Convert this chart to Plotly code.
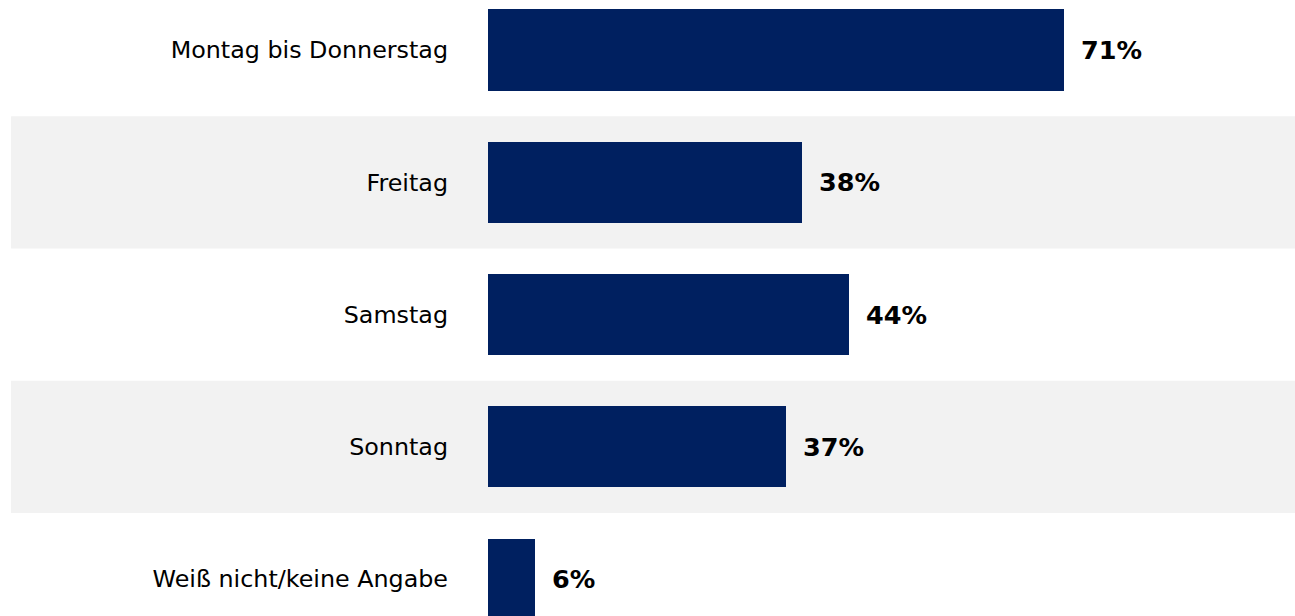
import plotly.graph_objects as go

categories = ["Montag bis Donnerstag", "Freitag", "Samstag", "Sonntag", "Weiß nicht/keine Angabe"]
values = [70.6, 38.5, 44.3, 36.6, 5.8]
labels = ["71%", "38%", "44%", "37%", "6%"]

BAR = "#002060"
BAND = "#f2f2f2"
FONT = "Verdana, DejaVu Sans, sans-serif"

fig = go.Figure()
fig.add_trace(go.Bar(
    y=categories, x=values, orientation="h",
    marker=dict(color=BAR, line=dict(width=0)),
    width=0.613, hoverinfo="skip", showlegend=False,
))

shapes = []
for i in range(len(categories)):
    if i % 2 == 1:
        shapes.append(dict(type="rect", xref="paper", yref="y",
                           x0=-0.591, x1=1.0, y0=i - 0.5, y1=i + 0.5,
                           fillcolor=BAND, line=dict(width=0), layer="below"))

annotations = []
for c, v, t in zip(categories, values, labels):
    annotations.append(dict(x=v, y=c, xref="x", yref="y", text="<b>%s</b>" % t,
                            showarrow=False, xanchor="left", yanchor="middle",
                            xshift=15, font=dict(family=FONT, size=25.5, color="#000000")))

fig.update_layout(
    width=1295, height=616,
    margin=dict(l=488, r=0, t=0, b=0),
    paper_bgcolor="white", plot_bgcolor="rgba(0,0,0,0)",
    shapes=shapes, annotations=annotations,
    xaxis=dict(range=[0, 99], visible=False, fixedrange=True),
    yaxis=dict(range=[4.279, -0.378], showgrid=False, zeroline=False, showline=False,
               ticks="", ticklabelstandoff=39, fixedrange=True,
               tickfont=dict(family=FONT, size=23.8, color="#000000")),
    bargap=0,
)

fig.write_html("out.html", config={"displayModeBar": False},
               post_script="document.body.style.margin='0';document.body.style.overflow='hidden';")
